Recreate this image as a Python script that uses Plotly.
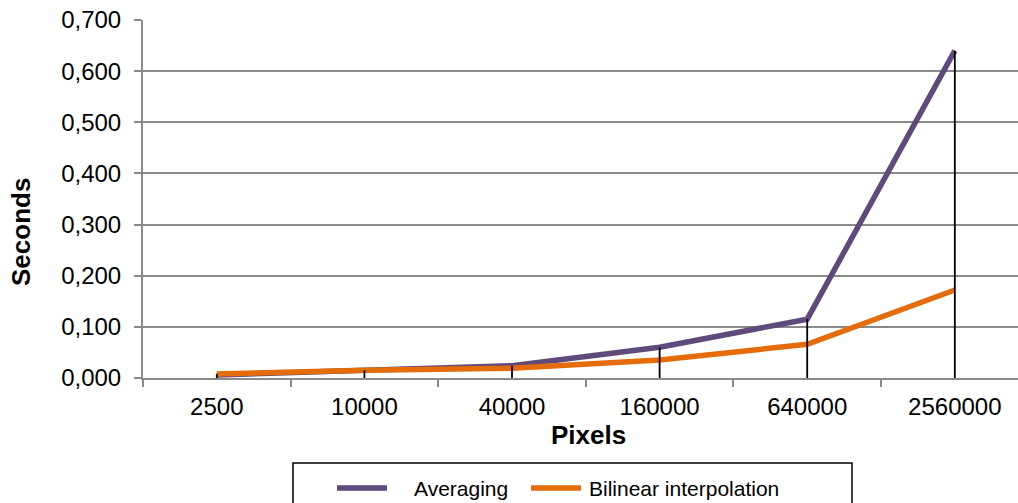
import plotly.graph_objects as go

# Image size (pixels) and processing time (seconds) for each resampling method
pixels = ["2500", "10000", "40000", "160000", "640000", "2560000"]
averaging = [0.006, 0.014, 0.024, 0.060, 0.115, 0.640]
bilinear = [0.008, 0.015, 0.019, 0.035, 0.066, 0.172]
y_ticks = [0.0, 0.1, 0.2, 0.3, 0.4, 0.5, 0.6, 0.7]

PURPLE = "#604A7B"
ORANGE = "#E46C0A"
GRID = "#8A8A8A"
FONT = "Liberation Sans, Arial, sans-serif"

fig = go.Figure()

fig.add_trace(go.Scatter(x=pixels, y=averaging, mode="lines", name="Averaging",
                         line=dict(color=PURPLE, width=5.5), showlegend=False))
fig.add_trace(go.Scatter(x=pixels, y=bilinear, mode="lines", name="Bilinear interpolation",
                         line=dict(color=ORANGE, width=5.5), showlegend=False))

# Drop lines from the higher of the two series down to the axis
drop_x, drop_y = [], []
for p, a, b in zip(pixels, averaging, bilinear):
    drop_x += [p, p, None]
    drop_y += [0, max(a, b), None]
fig.add_trace(go.Scatter(x=drop_x, y=drop_y, mode="lines", showlegend=False,
                         line=dict(color="black", width=1.8), hoverinfo="skip"))

L, R, T, B = 143, 0, 20, 125
W, H = 1018, 503
pw, ph = W - L - R, H - T - B


def px_x(x):
    return (x - L) / pw


def px_y(y):
    return (H - B - y) / ph


fig.update_layout(
    width=W, height=H,
    margin=dict(l=L, r=R, t=T, b=B),
    paper_bgcolor="white", plot_bgcolor="white",
    separators=", ",
    font=dict(family=FONT, size=24, color="black"),
    showlegend=False,
    xaxis=dict(
        type="category", range=[-0.5, 5.428],
        tickson="boundaries", ticks="outside", ticklen=7, tickwidth=1.5, tickcolor=GRID,
        showline=True, linecolor=GRID, linewidth=2, showgrid=False,
        tickfont=dict(size=24), ticklabelstandoff=6,
    ),
    yaxis=dict(
        range=[0, 0.7], tickvals=y_ticks, tickformat=".3f",
        ticks="outside", ticklen=7, tickwidth=1.5, tickcolor=GRID,
        showline=True, linecolor=GRID, linewidth=2,
        showgrid=True, gridcolor=GRID, gridwidth=1.5, zeroline=False,
        tickfont=dict(size=24), ticklabelstandoff=8,
    ),
)

# Axis titles
fig.add_annotation(text="<b>Pixels</b>", xref="paper", yref="paper",
                   x=px_x(588), y=px_y(435), showarrow=False,
                   font=dict(size=26), xanchor="center", yanchor="middle")
fig.add_annotation(text="<b>Seconds</b>", xref="paper", yref="paper",
                   x=px_x(21), y=px_y(232), showarrow=False, textangle=-90,
                   font=dict(size=26), xanchor="center", yanchor="middle")

# Legend box with line samples and labels
fig.add_shape(type="rect", xref="paper", yref="paper",
              x0=px_x(293), x1=px_x(852), y0=px_y(463), y1=px_y(520),
              line=dict(color="black", width=1.5), fillcolor="rgba(0,0,0,0)")
legend_items = [("Averaging", PURPLE, 337, 415), ("Bilinear interpolation", ORANGE, 531, 590)]
for label, color, sx, tx in legend_items:
    fig.add_shape(type="line", xref="paper", yref="paper",
                  x0=px_x(sx), x1=px_x(sx + 50), y0=px_y(488), y1=px_y(488),
                  line=dict(color=color, width=5.5))
    fig.add_annotation(text=label, xref="paper", yref="paper",
                       x=px_x(tx - 3), y=px_y(488), showarrow=False,
                       font=dict(size=21), xanchor="left", yanchor="middle")

fig.write_html("out.html")
